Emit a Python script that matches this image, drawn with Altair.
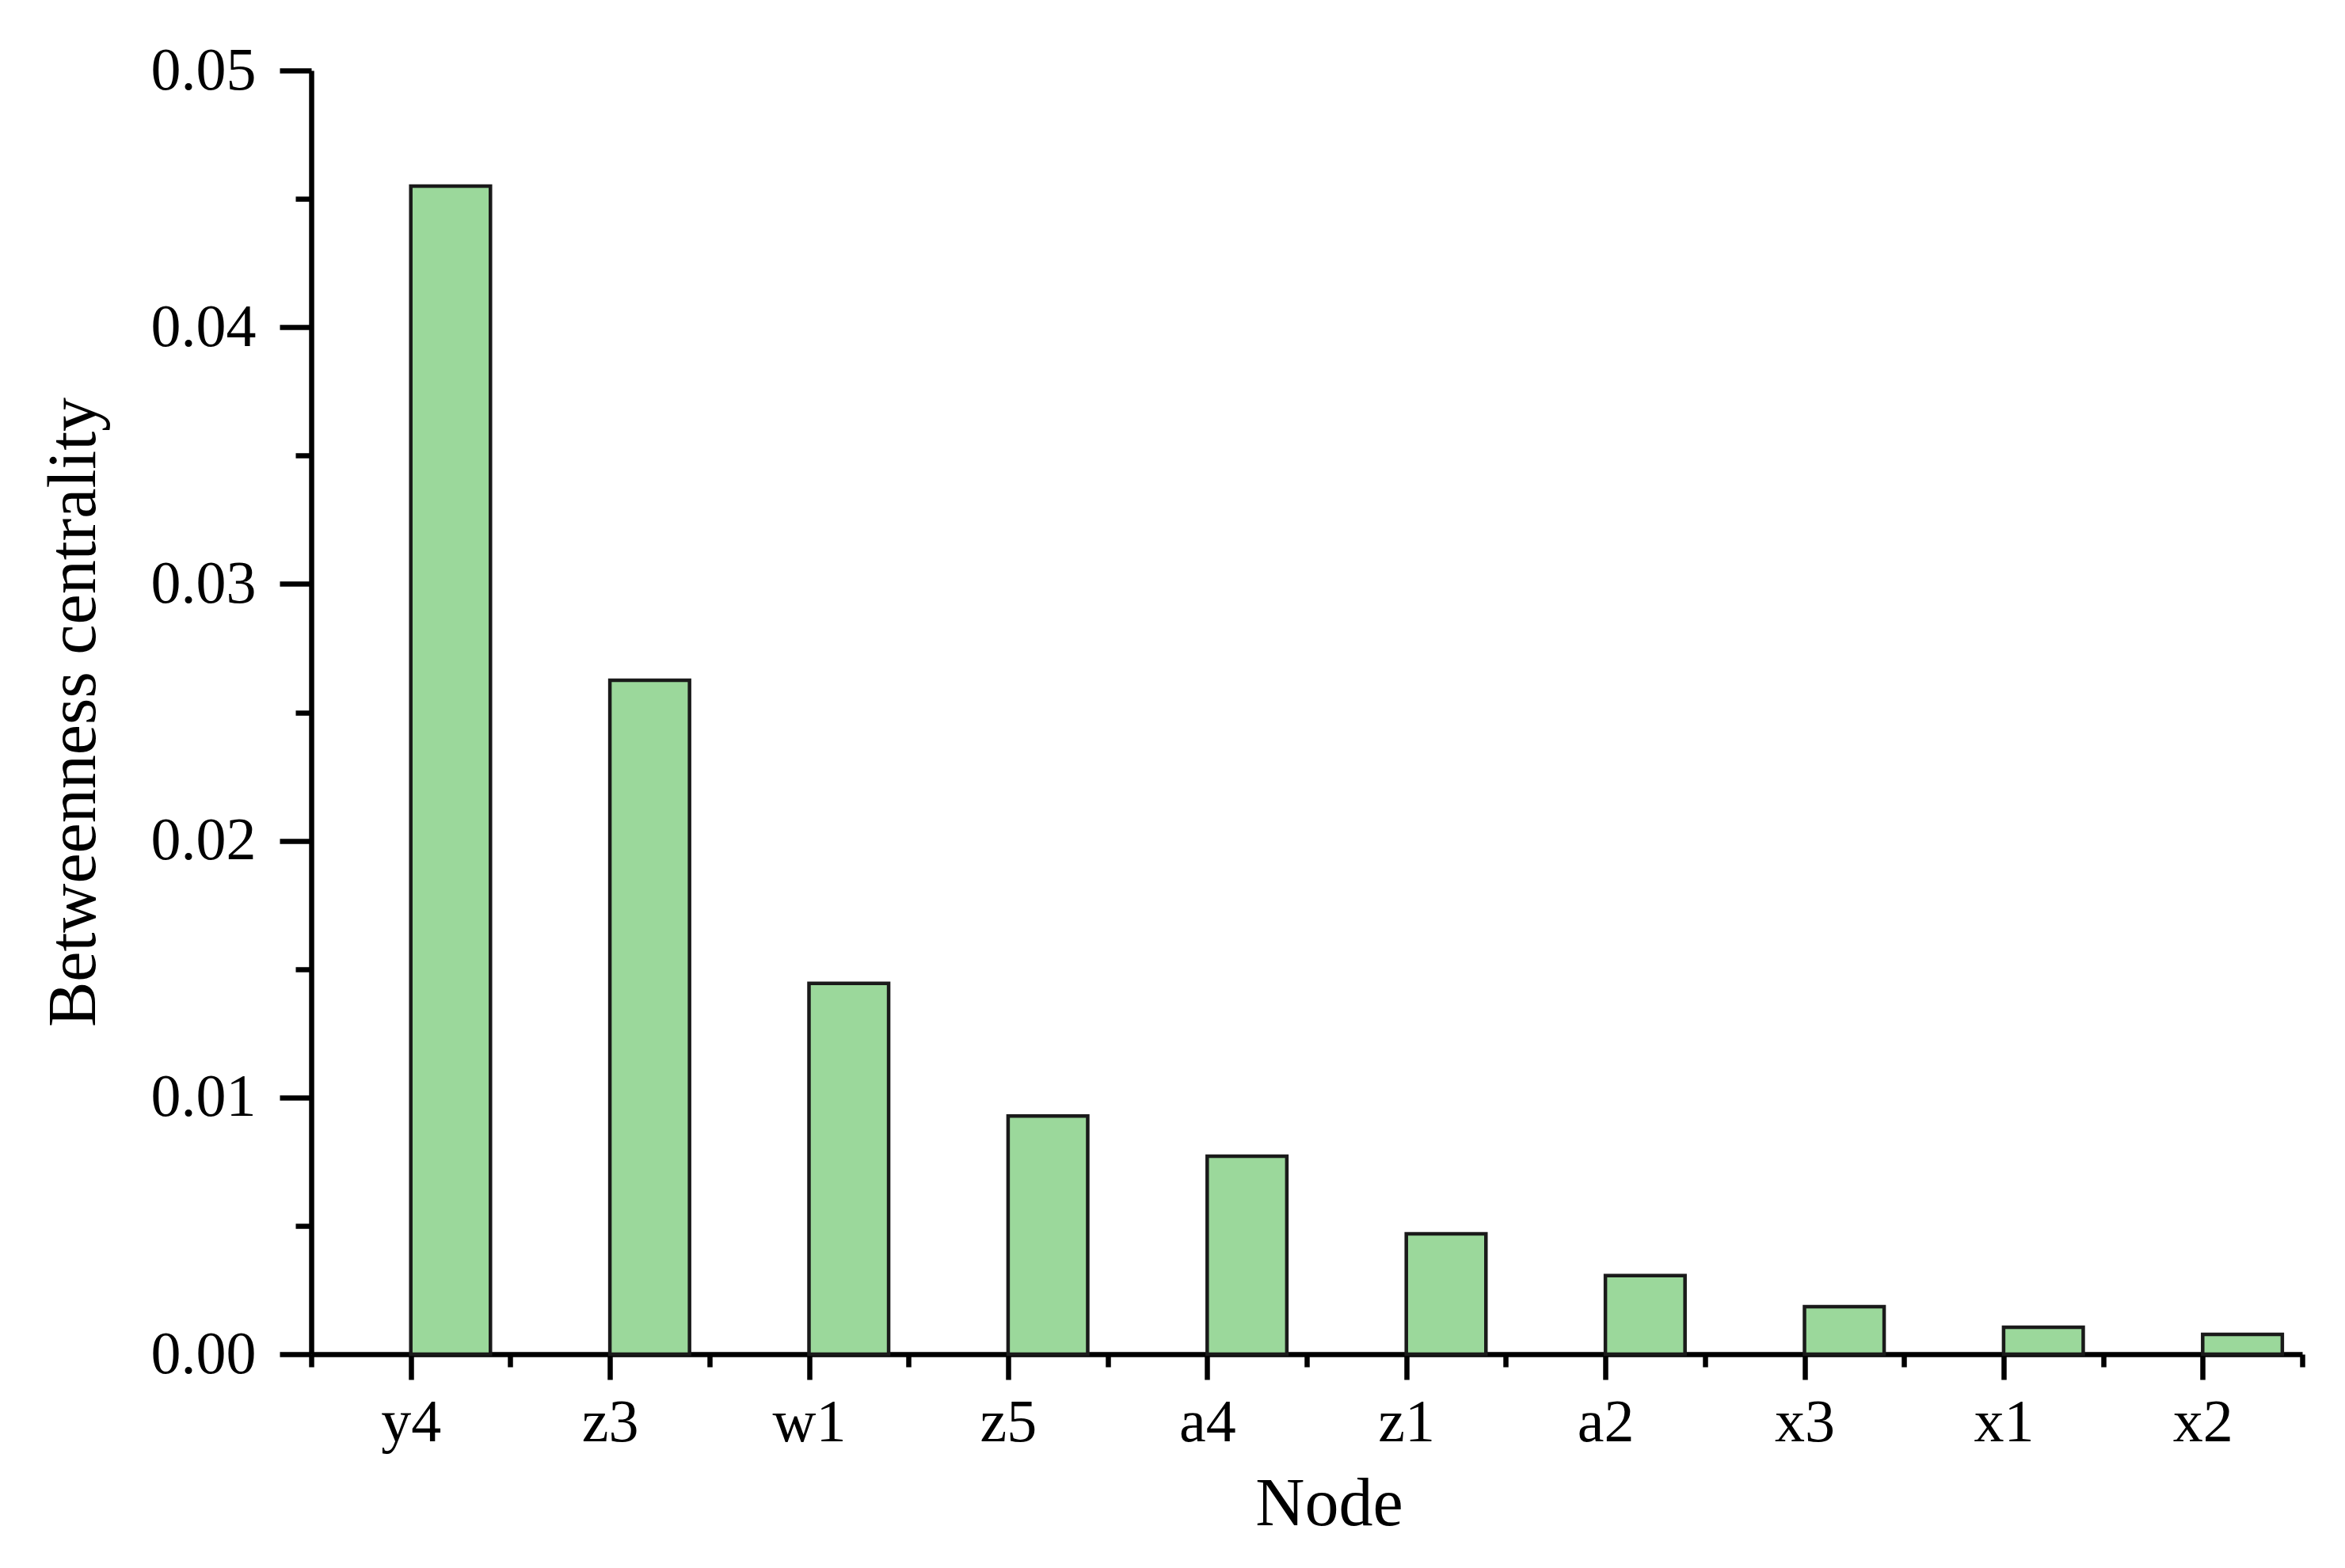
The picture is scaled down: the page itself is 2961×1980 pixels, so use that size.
import json
import altair as alt
import pandas as pd

# ---- data ----
nodes = ["y4", "z3", "w1", "z5", "a4", "z1", "a2", "x3", "x1", "x2"]
centrality = [0.0455, 0.02625, 0.01444, 0.00928, 0.00771, 0.00469, 0.00306, 0.00185, 0.00105, 0.00077]
y_major = [0.0, 0.01, 0.02, 0.03, 0.04, 0.05]
y_minor = [0.005, 0.015, 0.025, 0.035, 0.045]

n = len(nodes)
x_major = list(range(n))
x_minor = [i - 0.5 for i in range(n + 1)]

df = pd.DataFrame({"idx": x_major, "node": nodes, "value": centrality})

FONT = "Liberation Serif"
BAR_FRAC = 0.4
LABEL_SIZE = 76
TITLE_SIZE = 86

label_expr = json.dumps(nodes) + "[round(datum.value)]"

x_scale = alt.Scale(domain=[-0.5, n - 0.5], nice=False, zero=False)
y_scale = alt.Scale(domain=[0, 0.05], nice=False)

base = alt.Chart(df).transform_calculate(idx_end=f"datum.idx + {BAR_FRAC}")

bars = base.mark_bar(fill="#9BD89B", stroke="#1a1a1a", strokeWidth=4.5).encode(
    x=alt.X(
        "idx:Q",
        scale=x_scale,
        axis=alt.Axis(
            orient="bottom",
            values=x_major,
            labelExpr=label_expr,
            title="Node",
            grid=False,
            domainColor="black",
            domainWidth=6.5,
            tickColor="black",
            tickWidth=6.5,
            tickSize=32,
            labelFont=FONT,
            labelFontSize=LABEL_SIZE,
            labelColor="black",
            labelPadding=17,
            labelFlush=False,
            labelOverlap=False,
            titleFont=FONT,
            titleFontSize=TITLE_SIZE,
            titleFontWeight="normal",
            titleColor="black",
            titleBaseline="alphabetic",
            titleX=1285,
            titleY=215,
        ),
    ),
    x2="idx_end:Q",
    y=alt.Y(
        "value:Q",
        scale=y_scale,
        axis=alt.Axis(
            orient="left",
            values=y_major,
            format=".2f",
            title="Betweenness centrality",
            grid=False,
            domainColor="black",
            domainWidth=6.5,
            tickColor="black",
            tickWidth=6.5,
            tickSize=40,
            labelFont=FONT,
            labelFontSize=LABEL_SIZE,
            labelColor="black",
            labelPadding=30,
            labelFlush=False,
            labelOverlap=False,
            titleFont=FONT,
            titleFontSize=TITLE_SIZE,
            titleFontWeight="normal",
            titleColor="black",
            titleBaseline="alphabetic",
            titleAlign="center",
            titleAngle=270,
            titleX=-274,
            titleY=810,
        ),
    ),
    y2=alt.datum(0),
)

minor = base.mark_point(opacity=0).encode(
    x=alt.X(
        "idx:Q",
        scale=x_scale,
        axis=alt.Axis(
            orient="bottom",
            values=x_minor,
            labels=False,
            domain=False,
            grid=False,
            title=None,
            tickColor="black",
            tickWidth=6.5,
            tickSize=16,
        ),
    ),
    y=alt.Y(
        "value:Q",
        scale=y_scale,
        axis=alt.Axis(
            orient="left",
            values=y_minor,
            labels=False,
            domain=False,
            grid=False,
            title=None,
            tickColor="black",
            tickWidth=6.5,
            tickSize=20,
        ),
    ),
)

chart = (
    alt.layer(bars, minor)
    .resolve_axis(x="independent", y="independent")
    .properties(
        width=2514,
        height=1621,
        autosize=alt.AutoSizeParams(type="none"),
        padding={"left": 385, "top": 81, "right": 46, "bottom": 250},
        background="white",
    )
    .configure_view(stroke=None)
)

chart.save("out.html", embed_options={"renderer": "svg", "actions": False})
